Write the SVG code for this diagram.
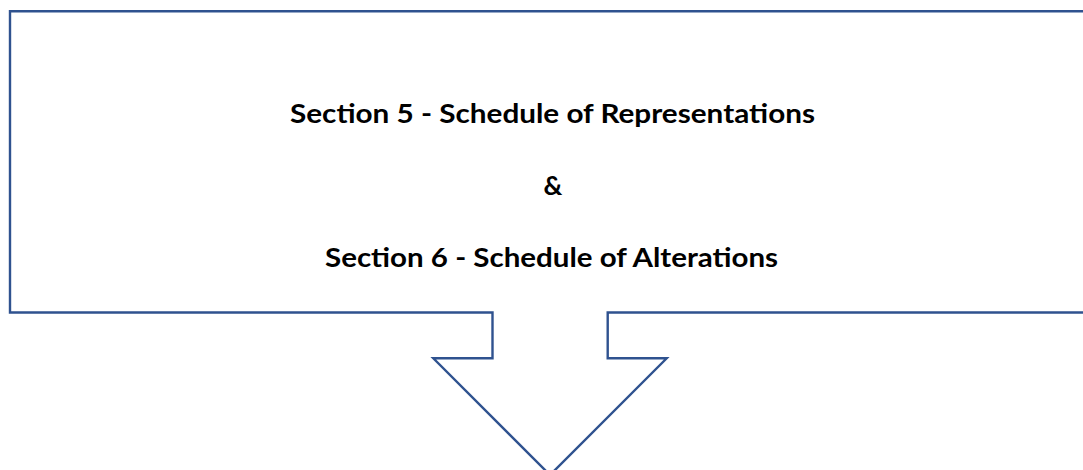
<svg xmlns="http://www.w3.org/2000/svg" width="1083" height="470" viewBox="0 0 1083 470">
<style>
.shape{fill:#ffffff;stroke:#2F528F;stroke-width:2.4;stroke-linejoin:miter}
.t{font-family:"Lato","Open Sans","Liberation Sans",sans-serif;font-weight:700;font-size:26px;fill:#000000;text-anchor:middle}
</style>
<rect x="0" y="0" width="1083" height="470" fill="#ffffff"/>
<g id="callout">
<path class="shape" d="M 10 11.3 H 1095 V 312.5 H 607.7 V 358.3 H 666.7 L 550 475 L 433.3 358.3 H 492.5 V 312.5 H 10 Z"/>
<text class="t" x="552.5" y="123" textLength="525" lengthAdjust="spacingAndGlyphs">Section 5 - Schedule of Representations</text>
<text class="t" x="553" y="195">&amp;</text>
<text class="t" x="551.5" y="267" textLength="453" lengthAdjust="spacingAndGlyphs">Section 6 - Schedule of Alterations</text>
</g>
<g id="connectors"></g>
</svg>
